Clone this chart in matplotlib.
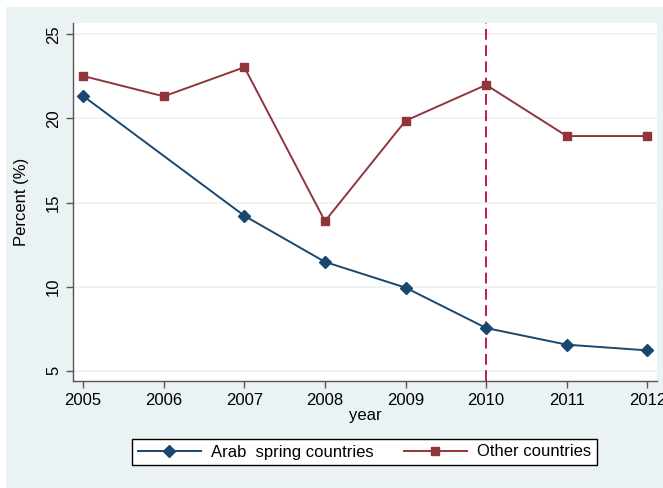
import matplotlib
matplotlib.use('Agg')
import matplotlib.pyplot as plt
from matplotlib.patches import Rectangle

years = [2005, 2006, 2007, 2008, 2009, 2010, 2011, 2012]
# Arab spring series has no value for 2006
arab_years = [2005, 2007, 2008, 2009, 2010, 2011, 2012]
arab_pct = [21.33, 14.21, 11.47, 9.94, 7.54, 6.55, 6.21]
other_pct = [22.52, 21.31, 23.04, 13.89, 19.86, 21.99, 18.95, 18.95]
y_ticks = [5, 10, 15, 20, 25]
event_year = 2010

bg = '#EAF2F3'
navy = '#1A476F'
maroon = '#90353B'

plt.rcParams['font.family'] = ['Liberation Sans', 'DejaVu Sans']

fig = plt.figure(figsize=(6.63, 4.88), dpi=100)
fig.patch.set_facecolor('white')
# Stata-like graph region, slightly offset from the image edge
fig.patches.append(Rectangle((6 / 663, 0), 1, 1 - 7 / 488, transform=fig.transFigure,
                             facecolor=bg, edgecolor='none', zorder=-5))

ax = fig.add_axes([72.7 / 663, 1 - 381 / 488, (657 - 72.7) / 663, (381 - 23) / 488])
ax.set_zorder(2)
ax.set_facecolor('white')

for t in y_ticks:
    ax.axhline(t, color=bg, lw=1.2, zorder=1)

ax.plot(arab_years, arab_pct, color=navy, lw=1.4, marker='D', ms=6.5,
        label='Arab  spring countries', zorder=3)
ax.plot(years, other_pct, color=maroon, lw=1.4, marker='s', ms=6,
        label='Other countries', zorder=3)
ax.axvline(event_year, color='#C10534', lw=1.3, ls=(0, (6, 3)), zorder=2)

ax.set_xlim(2004.87, 2012.12)
ax.set_ylim(4.39, 25.67)
ax.set_xticks(years)
ax.set_yticks(y_ticks)
ax.tick_params(axis='both', labelsize=12, length=5, width=1, color='#555555')
plt.setp(ax.get_yticklabels(), rotation=90, va='center')

for s in ['top', 'right']:
    ax.spines[s].set_visible(False)
for s in ['left', 'bottom']:
    ax.spines[s].set_color('#555555')
    ax.spines[s].set_linewidth(1)

ax.set_xlabel('year', fontsize=12, labelpad=0)
ax.set_ylabel('Percent (%)', fontsize=12, labelpad=12)

leg = fig.legend(loc='center', bbox_to_anchor=((130 + 599) / 2 / 663, 1 - 452 / 488),
                 ncol=2, fontsize=12, frameon=True, fancybox=False, framealpha=1,
                 edgecolor='black', handlelength=3.8, columnspacing=1.8,
                 borderpad=0.35, handletextpad=0.6)
leg.get_frame().set_linewidth(1)
leg.get_frame().set_facecolor('white')

fig.savefig('out.png', dpi=100, facecolor=fig.get_facecolor())
